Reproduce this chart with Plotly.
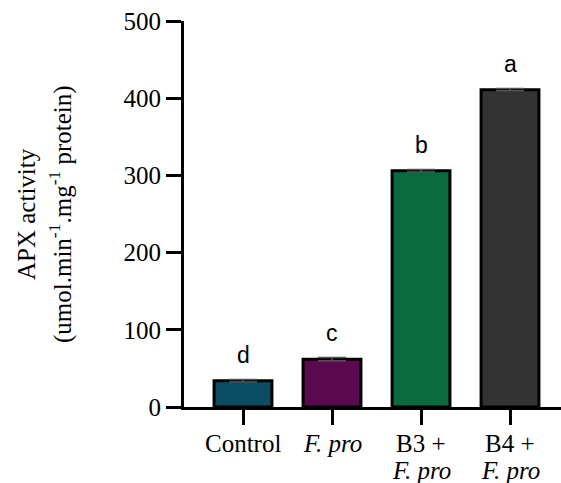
import plotly.graph_objects as go

# APX activity per treatment
label_line1 = ["Control", "<i>F. pro</i>", "B3 +", "B4 +"]
label_line2 = ["", "", "<i>F. pro</i>", "<i>F. pro</i>"]
apx_values = [34, 62, 306, 411]
apx_errors = [1.5, 2, 1.5, 1.5]
sig_letters = ["d", "c", "b", "a"]
bar_colors = ["#0b4d63", "#5c0a50", "#0a6a40", "#333333"]
y_ticks = [0, 100, 200, 300, 400, 500]

serif = "Liberation Serif"
positions = list(range(len(label_line1)))

fig = go.Figure()
fig.add_trace(go.Bar(
    x=positions,
    y=apx_values,
    width=0.65,
    marker=dict(color=bar_colors, line=dict(color="black", width=3)),
    error_y=dict(type="data", array=apx_errors, visible=True,
                 color="#555555", thickness=1.5, width=14),
    showlegend=False,
))

# significance letters above each bar
for i, (v, e, s) in enumerate(zip(apx_values, apx_errors, sig_letters)):
    fig.add_annotation(x=i, y=v + e, text=s, showarrow=False,
                       yanchor="middle", yshift=25,
                       font=dict(family="Liberation Sans", size=23, color="black"))

# category labels under the axis, with tighter line spacing than tick text
for i, (l1, l2) in enumerate(zip(label_line1, label_line2)):
    fig.add_annotation(x=i, xref="x", yref="paper", y=0, yanchor="middle",
                       yshift=-36, text=l1, showarrow=False, borderpad=0,
                       font=dict(family=serif, size=25, color="black"))
    if l2:
        fig.add_annotation(x=i, xref="x", yref="paper", y=0, yanchor="middle",
                           yshift=-63, text=l2, showarrow=False, borderpad=0,
                           font=dict(family=serif, size=25, color="black"))

# two-line y-axis title
fig.add_annotation(xref="paper", yref="paper", x=0, y=0.5, xanchor="center",
                   yanchor="middle", xshift=-158, textangle=-90, showarrow=False,
                   text="APX activity",
                   font=dict(family=serif, size=25, color="black"))
fig.add_annotation(xref="paper", yref="paper", x=0, y=0.5, xanchor="center",
                   yanchor="middle", xshift=-124, textangle=-90, showarrow=False,
                   text="(umol.min<sup>-1</sup>.mg<sup>-1</sup> protein)",
                   font=dict(family=serif, size=25, color="black"))

fig.update_layout(
    width=561, height=483,
    margin=dict(l=184, r=0, t=21, b=76),
    paper_bgcolor="white", plot_bgcolor="white",
    xaxis=dict(
        range=[-0.663, 3.573], automargin=False,
        tickmode="array", tickvals=positions, showticklabels=False,
        showline=True, linecolor="black", linewidth=3,
        ticks="outside", ticklen=15, tickwidth=3, tickcolor="black",
        showgrid=False, zeroline=False,
    ),
    yaxis=dict(
        range=[0, 500], automargin=False,
        tickmode="array", tickvals=y_ticks,
        showline=True, linecolor="black", linewidth=3,
        ticks="outside", ticklen=15, tickwidth=3, tickcolor="black",
        showgrid=False, zeroline=False,
        tickfont=dict(family=serif, size=25, color="black"),
    ),
)

fig.write_html("out.html")
